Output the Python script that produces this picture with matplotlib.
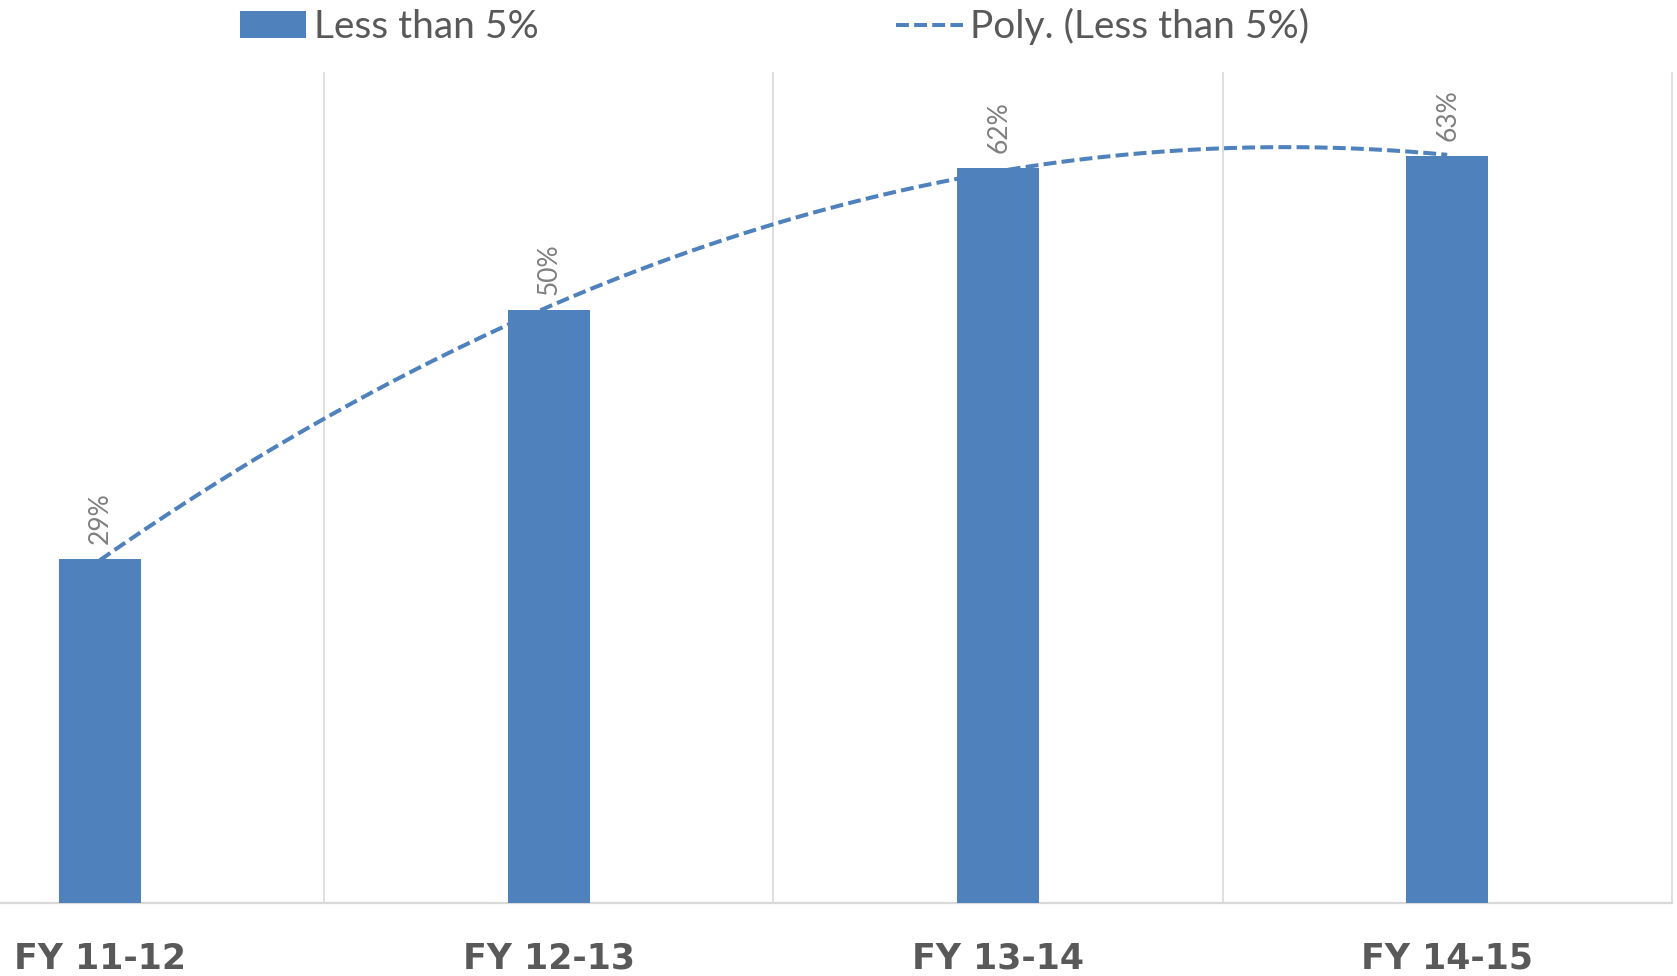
import numpy as np
import matplotlib
matplotlib.use("Agg")
import matplotlib.pyplot as plt
from matplotlib.lines import Line2D
from matplotlib.patches import Patch

# Share of cases below 5%, by financial year
categories = ["FY 11-12", "FY 12-13", "FY 13-14", "FY 14-15"]
share_less_than_5 = [29, 50, 62, 63]
value_labels = ["29%", "50%", "62%", "63%"]
series_name = "Less than 5%"
trend_name = "Poly. (Less than 5%)"

BAR_COLOR = "#4F81BD"
GRID_COLOR = "#D9D9D9"
TEXT_DARK = "#595959"
TEXT_LIGHT = "#7F7F7F"

plt.rcParams["font.family"] = ["Lato", "DejaVu Sans"]

fig = plt.figure(figsize=(16.77, 9.76), dpi=100)
ax = fig.add_axes([-0.0745, 0.0748, 1.0714, 0.8504])

x = np.arange(len(categories))
ax.bar(x, share_less_than_5, width=0.183, color=BAR_COLOR, zorder=3)

ax.set_xlim(-0.5, len(categories) - 0.5)
ax.set_ylim(0, 70)

# vertical separators between categories
for b in np.arange(-0.5, len(categories)):
    ax.axvline(b, color=GRID_COLOR, lw=1.2, zorder=1, clip_on=False)

# second-order polynomial trendline
coeffs = np.polyfit(x, share_less_than_5, 2)
xs = np.linspace(x[0], x[-1], 300)
dash = (0, (3.2, 1.3))
ax.plot(xs, np.polyval(coeffs, xs), color=BAR_COLOR, lw=2.9,
        linestyle=dash, zorder=4)

# value labels above bars
for xi, v, lbl in zip(x, share_less_than_5, value_labels):
    ax.annotate(lbl, (xi, v), xytext=(0.5, 11), textcoords="offset points",
                rotation=90, ha="center", va="bottom", fontsize=19,
                color=TEXT_LIGHT, zorder=5)

for side in ("top", "left", "right"):
    ax.spines[side].set_visible(False)
ax.spines["bottom"].set_color(GRID_COLOR)
ax.spines["bottom"].set_linewidth(1.6)

ax.set_yticks([])
ax.set_xticks(x, categories)
for t in ax.get_xticklabels():
    t.set_family(["DejaVu Sans"])
    t.set_fontsize(25)
    t.set_fontweight("bold")
    t.set_color(TEXT_DARK)
ax.tick_params(axis="x", length=0, pad=28)

handles = [
    Patch(facecolor=BAR_COLOR, edgecolor="none"),
    Line2D([0], [0], color=BAR_COLOR, lw=2.9, linestyle=dash),
]
fig.legend(handles, [series_name, trend_name], loc="upper left",
           bbox_to_anchor=(240 / 1677, 1 - 8 / 976), ncol=2, frameon=False,
           fontsize=28, labelcolor=TEXT_DARK, handlelength=1.7,
           handleheight=0.7, handletextpad=0.2, columnspacing=9.2,
           borderpad=0, borderaxespad=0)

fig.savefig("out.png", dpi=100)
